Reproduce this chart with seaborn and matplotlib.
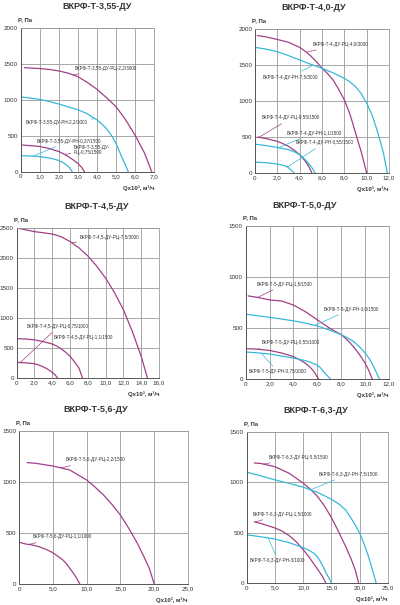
import numpy as np
import pandas as pd
import matplotlib
matplotlib.use('Agg')
import matplotlib.pyplot as plt
import seaborn as sns

sns.set_style('white')
plt.rcParams['font.family'] = ['Liberation Sans', 'DejaVu Sans']

purple = '#a23f86'
cyan = '#36b9d7'
grid_col = '#9a9a9a'
text_col = '#333333'

# --- ВКРФ-Т-3,55-ДУ ---
q_355_rc22 = [0.2, 1.0, 1.5, 2.0, 2.5, 3.0, 3.5, 4.0, 4.5, 5.0, 5.5, 6.0, 6.5, 6.88]
p_355_rc22 = [1445, 1432, 1420, 1400, 1368, 1320, 1240, 1145, 1030, 905, 725, 510, 260, 0]
q_355_rn22 = [0, 0.5, 1.0, 1.5, 2.0, 2.5, 3.0, 3.5, 4.0, 4.25, 4.5, 4.75, 5.0, 5.3, 5.65]
p_355_rn22 = [1040, 1022, 1005, 975, 940, 900, 860, 805, 720, 665, 600, 510, 395, 210, 0]
q_355_rc075 = [0.1, 0.5, 1.0, 1.5, 2.0, 2.25, 2.5, 2.75, 3.0, 3.2, 3.35]
p_355_rc075 = [370, 362, 350, 322, 280, 248, 210, 165, 115, 60, 0]
q_355_rn037 = [0, 0.5, 1.0, 1.5, 1.75, 2.0, 2.2, 2.4, 2.55, 2.7]
p_355_rn037 = [222, 218, 210, 190, 175, 155, 130, 95, 60, 0]

# --- ВКРФ-Т-4,0-ДУ ---
q_4_rc40 = [0.2, 1.0, 2.0, 3.0, 4.0, 4.5, 5.0, 5.5, 6.0, 6.5, 7.0, 7.5, 8.0, 8.5, 9.0, 9.5, 10.0]
p_4_rc40 = [1910, 1890, 1855, 1815, 1745, 1690, 1625, 1545, 1455, 1380, 1290, 1160, 1015, 820, 560, 300, 0]
q_4_rn75 = [0, 1.0, 2.0, 3.0, 4.0, 5.0, 6.0, 7.0, 8.0, 8.5, 9.0, 9.5, 10.0, 10.5, 11.0, 11.5, 11.85]
p_4_rn75 = [1745, 1720, 1685, 1630, 1570, 1510, 1455, 1390, 1315, 1265, 1200, 1105, 970, 800, 560, 280, 0]
q_4_rc055 = [0.2, 1.0, 2.0, 2.5, 3.0, 3.5, 4.0, 4.5, 4.8, 5.1]
p_4_rc055 = [500, 478, 440, 408, 370, 318, 255, 165, 95, 0]
q_4_rn11 = [0, 1.0, 2.0, 2.5, 3.0, 3.5, 4.0, 4.5, 5.0, 5.2, 5.4]
p_4_rn11 = [400, 380, 355, 340, 325, 295, 255, 185, 95, 50, 0]
q_4_rn055 = [0, 1.0, 2.0, 2.5, 2.8, 3.0, 3.2, 3.35, 3.5]
p_4_rn055 = [150, 143, 125, 108, 92, 72, 46, 25, 0]

# --- ВКРФ-Т-4,5-ДУ ---
q_45_rc75 = [0.2, 1.0, 2.0, 3.0, 4.0, 5.0, 6.0, 7.0, 8.0, 9.0, 10.0, 11.0, 12.0, 13.0, 14.0, 14.7]
p_45_rc75 = [2490, 2465, 2435, 2415, 2395, 2350, 2270, 2165, 2030, 1860, 1660, 1420, 1135, 775, 360, 0]
q_45_rc11 = [0, 1.0, 2.0, 3.0, 4.0, 4.5, 5.0, 5.5, 6.0, 6.5, 7.0, 7.4]
p_45_rc11 = [655, 648, 635, 605, 565, 530, 485, 430, 360, 270, 165, 0]
q_45_rc075 = [0, 1.0, 2.0, 2.5, 3.0, 3.5, 4.0, 4.3, 4.6]
p_45_rc075 = [260, 252, 238, 215, 185, 145, 95, 55, 0]

# --- ВКРФ-Т-5,0-ДУ ---
q_5_rc15 = [0.2, 1.0, 2.0, 3.0, 4.0, 5.0, 6.0, 7.0, 8.0, 8.5, 9.0, 9.5, 10.0, 10.3, 10.6]
p_5_rc15 = [815, 800, 775, 765, 725, 660, 580, 500, 435, 385, 320, 245, 155, 85, 0]
q_5_rn30 = [0, 1.0, 2.0, 3.0, 4.0, 5.0, 6.0, 7.0, 8.0, 8.5, 9.0, 9.5, 10.0, 10.4, 10.7, 11.2]
p_5_rn30 = [635, 620, 605, 588, 570, 548, 520, 480, 435, 405, 370, 320, 255, 190, 125, 0]
q_5_rc055 = [0.15, 1.0, 2.0, 3.0, 4.0, 4.5, 5.0, 5.4, 5.7, 6.1]
p_5_rc055 = [297, 292, 280, 255, 220, 190, 155, 115, 75, 0]
q_5_rn075 = [0, 1.0, 2.0, 3.0, 4.0, 5.0, 5.5, 6.0, 6.3, 6.6, 6.9, 7.1]
p_5_rn075 = [265, 256, 245, 225, 205, 180, 160, 135, 105, 60, 25, 0]

# --- ВКРФ-Т-5,6-ДУ ---
q_56_rc22 = [1.2, 2.5, 5.0, 7.5, 10.0, 11.25, 12.5, 13.75, 15.0, 16.25, 17.5, 18.5, 19.3, 20.0]
p_56_rc22 = [1190, 1183, 1157, 1118, 1020, 950, 873, 780, 676, 545, 400, 265, 150, 0]
q_56_rc11 = [0, 1.0, 2.0, 3.0, 4.0, 5.0, 6.0, 6.5, 7.0, 7.5, 8.0, 8.5, 9.0]
p_56_rc11 = [410, 392, 382, 365, 340, 307, 260, 235, 200, 155, 110, 60, 0]

# --- ВКРФ-Т-6,3-ДУ ---
q_63_rc55 = [1.35, 2.5, 5.0, 7.5, 10.0, 11.25, 12.5, 13.75, 15.0, 16.25, 17.5, 18.5, 19.2, 19.8]
p_63_rc55 = [1190, 1185, 1153, 1088, 990, 930, 860, 765, 647, 510, 363, 235, 130, 0]
q_63_rn75 = [0, 2.5, 5.0, 7.5, 10.0, 12.5, 15.0, 16.25, 17.5, 18.5, 19.3, 20.0, 20.75, 21.5, 22.2, 22.9]
p_63_rn75 = [1098, 1062, 1022, 988, 950, 900, 830, 785, 725, 640, 565, 495, 390, 270, 140, 0]
q_63_rc15 = [1.35, 2.5, 5.0, 6.25, 7.5, 8.75, 10.0, 11.0, 12.0, 12.75, 13.4, 14.0]
p_63_rc15 = [607, 590, 546, 515, 470, 410, 330, 260, 180, 120, 65, 0]
q_63_rn3 = [0, 2.5, 5.0, 7.5, 10.0, 11.0, 12.0, 12.5, 13.0, 13.5, 14.0, 14.5, 15.0]
p_63_rn3 = [478, 458, 436, 400, 350, 325, 290, 260, 215, 165, 105, 55, 0]

# panel setup: title, pixel box (left, right, top, bottom), x ticks, y ticks,
# curves: (q, p, colour, label, label pos (x, y), leader target x)
panels = [
    dict(title='ВКРФ-Т-3,55-ДУ', box=(20.7, 154, 27.7, 171.7), tx=97,
         xt=np.arange(0, 7.01, 1.0), yt=np.arange(0, 2001, 500),
         curves=[
             (q_355_rc22, p_355_rc22, purple, 'ВКРФ-Т-3,55-ДУ-РЦ-2,2/3000', (2.85, 1440), 2.75),
             (q_355_rn22, p_355_rn22, cyan, 'ВКРФ-Т-3,55-ДУ-РН-2,2/3000', (0.28, 690), 3.9),
             (q_355_rc075, p_355_rc075, purple, 'ВКРФ-Т-3,55-ДУ-\nРЦ-0,75/1500', (2.8, 300), 2.3),
             (q_355_rn037, p_355_rn037, cyan, 'ВКРФ-Т-3,55-ДУ-РН-0,37/1500', (0.86, 426), 0.65),
         ]),
    dict(title='ВКРФ-Т-4,0-ДУ', box=(255, 389, 29, 173), tx=314,
         xt=np.arange(0, 12.01, 2.0), yt=np.arange(0, 2001, 500),
         curves=[
             (q_4_rc40, p_4_rc40, purple, 'ВКРФ-Т-4-ДУ-РЦ-4,0/3000', (5.2, 1790), 4.6),
             (q_4_rn75, p_4_rn75, cyan, 'ВКРФ-Т-4-ДУ-РН-7,5/3000', (0.7, 1333), 5.2),
             (q_4_rc055, p_4_rc055, purple, 'ВКРФ-Т-4-ДУ-РЦ-0,55/1500', (0.63, 764), 0.35),
             (q_4_rn11, p_4_rn11, cyan, 'ВКРФ-Т-4-ДУ-РН-1,1/1500', (2.8, 555), 2.1),
             (q_4_rn055, p_4_rn055, cyan, 'ВКРФ-Т-4-ДУ-РН-0,55/1500', (3.6, 417), 2.9),
         ]),
    dict(title='ВКРФ-Т-4,5-ДУ', box=(16.7, 159, 227.7, 378), tx=97,
         xt=np.arange(0, 16.01, 2.0), yt=np.arange(0, 2501, 500),
         curves=[
             (q_45_rc75, p_45_rc75, purple, 'ВКРФ-Т-4,5-ДУ-РЦ-7,5/3000', (7.1, 2329), 6.2),
             (q_45_rc075, p_45_rc075, purple, 'ВКРФ-Т-4,5-ДУ-РЦ-0,75/1000', (1.16, 849), 0.4),
             (q_45_rc11, p_45_rc11, purple, 'ВКРФ-Т-4,5-ДУ-РЦ-1,1/1500', (4.2, 666), 3.7),
         ]),
    dict(title='ВКРФ-Т-5,0-ДУ', box=(245.7, 389, 226, 379), tx=305,
         xt=np.arange(0, 12.01, 2.0), yt=np.arange(0, 1501, 500),
         curves=[
             (q_5_rc15, p_5_rc15, purple, 'ВКРФ-Т-5-ДУ-РЦ-1,5/1500', (0.95, 931), 1.0),
             (q_5_rn30, p_5_rn30, cyan, 'ВКРФ-Т-5-ДУ-РН-3,0/1500', (6.5, 686), 5.8),
             (q_5_rc055, p_5_rc055, purple, 'ВКРФ-Т-5-ДУ-РЦ-0,55/1000', (1.3, 353), 1.0),
             (q_5_rn075, p_5_rn075, cyan, 'ВКРФ-Т-5-ДУ-РН-0,75/1000', (0.28, 69), 1.3),
         ]),
    dict(title='ВКРФ-Т-5,6-ДУ', box=(19, 188, 431, 584), tx=96,
         xt=np.arange(0, 25.01, 5.0), yt=np.arange(0, 1501, 500),
         curves=[
             (q_56_rc22, p_56_rc22, purple, 'ВКРФ-Т-5,6-ДУ-РЦ-2,2/1500', (6.95, 1216), 6.2),
             (q_56_rc11, p_56_rc11, purple, 'ВКРФ-Т-5,6-ДУ-РЦ-1,1/1000', (2.07, 461), 1.4),
         ]),
    dict(title='ВКРФ-Т-6,3-ДУ', box=(246.7, 388, 431.7, 583), tx=316,
         xt=np.arange(0, 25.01, 5.0), yt=np.arange(0, 1501, 500),
         curves=[
             (q_63_rc55, p_63_rc55, purple, 'ВКРФ-Т-6,3-ДУ-РЦ-5,5/1500', (3.8, 1249), 3.0),
             (q_63_rn75, p_63_rn75, cyan, 'ВКРФ-Т-6,3-ДУ-РН-7,5/1500', (12.8, 1080), 11.3),
             (q_63_rc15, p_63_rc15, purple, 'ВКРФ-Т-6,3-ДУ-РЦ-1,5/1000', (1.1, 684), 1.5),
             (q_63_rn3, p_63_rn3, cyan, 'ВКРФ-Т-6,3-ДУ-РН-3/1000', (0.6, 228), 3.8),
         ]),
]

W, H = 400, 605
fig = plt.figure(figsize=(W / 100, H / 100), dpi=100)


def fmt_x(v):
    return '0' if v == 0 else f'{v:.1f}'.replace('.', ',')


for pnl in panels:
    l, r, t, b = pnl['box']
    ax = fig.add_axes([l / W, 1 - b / H, (r - l) / W, (b - t) / H])
    for q, p, col, lab, (lx, ly), tq in pnl['curves']:
        df = pd.DataFrame({'q': q, 'p': p})
        sns.lineplot(data=df, x='q', y='p', ax=ax, color=col, lw=0.9, sort=False)
        ax.annotate(lab, xy=(tq, np.interp(tq, q, p)), xytext=(lx, ly),
                    fontsize=3.3, color=text_col, ha='left', va='center',
                    linespacing=1.0,
                    arrowprops=dict(arrowstyle='-', lw=0.5, color=col,
                                    shrinkA=0, shrinkB=0))
    ax.set_xlim(pnl['xt'][0], pnl['xt'][-1])
    ax.set_ylim(pnl['yt'][0], pnl['yt'][-1])
    ax.set_xticks(pnl['xt'])
    ax.set_yticks(pnl['yt'])
    ax.set_xticklabels([fmt_x(v) for v in pnl['xt']])
    ax.set_yticklabels([str(int(v)) for v in pnl['yt']])
    ax.tick_params(length=0, pad=2, labelsize=4.5, labelcolor=text_col)
    ax.grid(True, color=grid_col, lw=0.6)
    ax.set_xlabel('')
    ax.set_ylabel('')
    for side in ['top', 'right']:
        ax.spines[side].set_color(grid_col)
        ax.spines[side].set_linewidth(0.6)
    for side in ['left', 'bottom']:
        ax.spines[side].set_color('#555555')
        ax.spines[side].set_linewidth(0.7)
    # texts around the axes
    fig.text(pnl['tx'] / W, 1 - (t - 21) / H, pnl['title'], ha='center', va='center',
             fontsize=6.5, fontweight='bold', color=text_col)
    ax.text(-0.02, 1.0 + 6 / (b - t), 'P, Па', transform=ax.transAxes,
            ha='left', va='bottom', fontsize=4.3, fontweight='bold', color=text_col)
    ax.text(1.0, -16 / (b - t), 'Qx10³, м³/ч', transform=ax.transAxes,
            ha='right', va='center', fontsize=4.3, fontweight='bold', color=text_col)

fig.savefig('out.png', dpi=100)
